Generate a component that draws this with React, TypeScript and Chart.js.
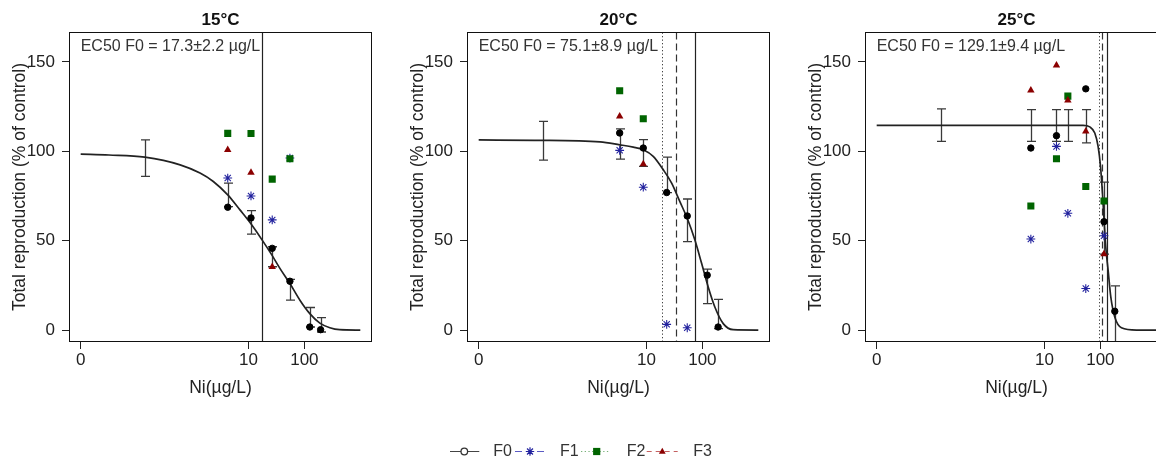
import React, { useEffect, useRef } from "react";
import { Chart, registerables } from "chart.js";

Chart.register(...registerables);

const FONT = '"Liberation Sans", Arial, Helvetica, sans-serif';
const TEXT = "#222";
const BLACK = "#000000";
const BLUE = "#22229e";
const GREEN = "#006400";
const RED = "#8b0000";

// ---------- labels ----------
const panelTitles = ["15°C", "20°C", "25°C"];
const ec50Texts = [
  "EC50 F0 = 17.3±2.2 µg/L",
  "EC50 F0 = 75.1±8.9 µg/L",
  "EC50 F0 = 129.1±9.4 µg/L",
];
const seriesNames = ["F0", "F1", "F2", "F3"];
const xTitle = "Ni(µg/L)";
const yTitle = "Total reproduction (% of control)";

const yTickValues = [0, 50, 100, 150];
const xTickValues = [0, 10, 100];
const xTickLabels = ["0", "10", "100"];

// ---------- 15°C ----------
const conc15 = [4.26, 11.1, 26.6, 55.1, 125, 195];
const f0_15 = [68.7, 62.7, 45.7, 27.3, 1.7, 0.2];
const f1_15 = [85.0, 75.0, 61.6, 96.2, null, null];
const f2_15 = [110.0, 109.9, 84.4, 95.8, null, null];
const f3_15 = [100.8, 88.1, 35.4, null, null, null];
const barConc15 = [0.14, 4.26, 11.1, 26.6, 55.1, 125, 195];
const barLow15 = [85.9, 69.0, 53.7, 35.4, 16.7, 1.7, -1.1];
const barHigh15 = [106.4, 82.2, 66.8, 46.6, 28.3, 12.6, 7.0];
const curveConc15 = [0, 0.032, 0.14, 0.6, 1.36, 2.35, 4.26, 7.05, 10.9, 17.6, 26.3, 36.5, 55.1, 83.2, 125, 189, 285, 427, 1000];
const curveFit15 = [98.4, 97.9, 96.7, 92.4, 87.8, 83.1, 75.6, 67.2, 59.7, 50.3, 41.9, 34.5, 26.0, 16.7, 9.2, 3.9, 1.3, 0.2, 0];

// ---------- 20°C ----------
const conc20 = [3.32, 8.77, 23.0, 53.6, 122, 191];
const f0_20 = [110.2, 101.8, 76.9, 63.8, 30.7, 1.7];
const f1_20 = [100.5, 79.9, 3.2, 1.3, null, null];
const f2_20 = [133.8, 118.2, null, null, null, null];
const f3_20 = [119.5, 92.8, null, null, null, null];
const barConc20 = [0.14, 3.32, 8.77, 23.0, 53.6, 122, 191];
const barLow20 = [95.0, 95.6, 91.5, 76.9, 49.4, 14.8, 0.8];
const barHigh20 = [116.7, 112.5, 106.5, 96.7, 73.3, 34.1, 17.2];
const curveConc20 = [0, 0.1, 1.48, 3.32, 5.81, 8.77, 13.2, 20.0, 28.2, 39.6, 53.6, 73.5, 96.8, 127, 167, 236, 355, 1000];
const curveFit20 = [106.3, 106.1, 105.2, 103.6, 102.3, 100.8, 97.1, 89.6, 82.2, 71.8, 62.5, 50.3, 37.3, 24.1, 12.9, 3.6, 0.2, 0];

// ---------- 25°C ----------
const conc25 = [5.71, 16.4, 26.2, 54.8, 116, 181];
const f0_25 = [101.8, 108.7, null, 134.9, 60.6, 10.5];
const f1_25 = [50.9, 102.7, 65.3, 23.2, 52.7, null];
const f2_25 = [69.4, 95.8, 130.8, 80.3, 72.2, null];
const f3_25 = [134.1, 148.0, 128.5, 111.1, 42.5, null];
const barConc25 = [0.14, 5.71, 16.4, 26.2, 54.8, 116, 181];
const barLow25 = [105.5, 105.5, 105.5, 105.5, 104.7, 42.5, -10];
const barHigh25 = [123.7, 123.3, 123.3, 123.3, 123.3, 82.7, 24.7];
const curveConc25 = [0, 1, 28.4, 49.1, 64.7, 79.4, 91.0, 100.5, 108.9, 116.4, 124.7, 137.4, 153.5, 180.7, 238, 442, 1000];
const curveFit25 = [114.5, 114.5, 114.5, 114.5, 113.6, 110.2, 102.7, 91.5, 76.5, 61.6, 46.6, 33.5, 18.5, 7.3, 1.3, 0, 0];

// EC50 reference lines (solid = F0, dashed, dotted)
const ec50Solid = [17.3, 75.1, 129.1];
const ec50Dashed = [null, 33.7, 106];
const ec50Dotted = [null, 19.1, 93.5];

// axis transform: log10 with 0 placed at the left end
const ZERO_POS = -2;
const tx = (c: number) => (c <= 0 ? ZERO_POS : Math.log10(c));

type Panel = {
  title: string;
  ec50Text: string;
  conc: number[];
  series: (number | null)[][];
  barConc: number[];
  barLow: number[];
  barHigh: number[];
  curveConc: number[];
  curveFit: number[];
  solid: number | null;
  dashed: number | null;
  dotted: number | null;
  left: number;
};

const panels: Panel[] = [
  {
    title: panelTitles[0], ec50Text: ec50Texts[0], conc: conc15,
    series: [f0_15, f1_15, f2_15, f3_15],
    barConc: barConc15, barLow: barLow15, barHigh: barHigh15,
    curveConc: curveConc15, curveFit: curveFit15,
    solid: ec50Solid[0], dashed: ec50Dashed[0], dotted: ec50Dotted[0], left: 0,
  },
  {
    title: panelTitles[1], ec50Text: ec50Texts[1], conc: conc20,
    series: [f0_20, f1_20, f2_20, f3_20],
    barConc: barConc20, barLow: barLow20, barHigh: barHigh20,
    curveConc: curveConc20, curveFit: curveFit20,
    solid: ec50Solid[1], dashed: ec50Dashed[1], dotted: ec50Dotted[1], left: 398,
  },
  {
    title: panelTitles[2], ec50Text: ec50Texts[2], conc: conc25,
    series: [f0_25, f1_25, f2_25, f3_25],
    barConc: barConc25, barLow: barLow25, barHigh: barHigh25,
    curveConc: curveConc25, curveFit: curveFit25,
    solid: ec50Solid[2], dashed: ec50Dashed[2], dotted: ec50Dotted[2], left: 796,
  },
];

const CW = 390;
const CH = 410;

const markerStyles = [
  { pointStyle: "circle", radius: 3.2, color: BLACK, fill: BLACK, bw: 1 },
  { pointStyle: "star", radius: 4.4, color: BLUE, fill: BLUE, bw: 1.1 },
  { pointStyle: "rect", radius: 5, color: GREEN, fill: GREEN, bw: 0 },
  { pointStyle: "triangle", radius: 4.3, color: RED, fill: RED, bw: 0 },
];

function PanelChart({ p }: { p: Panel }) {
  const ref = useRef<HTMLCanvasElement>(null);
  useEffect(() => {
    if (!ref.current) return;
    const datasets: any[] = [
      {
        label: "fit",
        data: p.curveConc.map((c, i) => ({ x: tx(c), y: p.curveFit[i] })),
        showLine: true,
        borderColor: "#222",
        borderWidth: 1.7,
        pointRadius: 0,
        cubicInterpolationMode: "monotone",
        fill: false,
        order: 10,
      },
    ];
    p.series.forEach((vals, k) => {
      const st = markerStyles[k];
      datasets.push({
        label: seriesNames[k],
        data: p.conc
          .map((c, i) => (vals[i] == null ? null : { x: tx(c), y: vals[i] }))
          .filter((d) => d !== null),
        showLine: false,
        pointStyle: st.pointStyle,
        pointRadius: st.radius,
        pointBackgroundColor: st.fill,
        pointBorderColor: st.color,
        pointBorderWidth: st.bw,
        backgroundColor: st.fill,
        borderColor: st.color,
        order: 4 - k,
      });
    });

    const panelPlugin = {
      id: "panelDecor",
      beforeDatasetsDraw(chart: any) {
        const { ctx, chartArea: a, scales } = chart;
        const x = scales.x;
        const y = scales.y;
        ctx.save();
        ctx.beginPath();
        ctx.rect(a.left, a.top, a.right - a.left, a.bottom - a.top);
        ctx.clip();
        // reference lines
        const vline = (v: number | null, dash: number[], color: string, w: number) => {
          if (v == null) return;
          const px = Math.round(x.getPixelForValue(tx(v))) + 0.5;
          ctx.beginPath();
          ctx.setLineDash(dash);
          ctx.strokeStyle = color;
          ctx.lineWidth = w;
          ctx.moveTo(px, a.top);
          ctx.lineTo(px, a.bottom);
          ctx.stroke();
        };
        vline(p.dotted, [1.3, 2.2], "#444", 1);
        vline(p.dashed, [7, 4], "#333", 1.2);
        vline(p.solid, [], "#222", 1.2);
        ctx.setLineDash([]);
        // error bars
        ctx.strokeStyle = "#3a3a3a";
        ctx.lineWidth = 1.3;
        p.barConc.forEach((c, i) => {
          const px = Math.round(x.getPixelForValue(tx(c))) + 0.5;
          const py1 = y.getPixelForValue(p.barHigh[i]);
          const py2 = y.getPixelForValue(p.barLow[i]);
          ctx.beginPath();
          ctx.moveTo(px, py1);
          ctx.lineTo(px, py2);
          ctx.moveTo(px - 4.5, py1);
          ctx.lineTo(px + 4.5, py1);
          ctx.moveTo(px - 4.5, py2);
          ctx.lineTo(px + 4.5, py2);
          ctx.stroke();
        });
        ctx.restore();
      },
      afterDraw(chart: any) {
        const { ctx, chartArea: a, scales } = chart;
        ctx.save();
        ctx.strokeStyle = "#111";
        ctx.lineWidth = 1;
        ctx.strokeRect(a.left, a.top, a.right - a.left, a.bottom - a.top);
        ctx.fillStyle = "#111";
        ctx.font = `bold 17px ${FONT}`;
        ctx.textAlign = "center";
        ctx.textBaseline = "middle";
        ctx.fillText(p.title, (a.left + a.right) / 2, 20.7);
        ctx.fillStyle = "#333";
        ctx.font = `16px ${FONT}`;
        ctx.textAlign = "left";
        ctx.fillText(p.ec50Text, scales.x.getPixelForValue(tx(0)), a.top + 14.2);
        ctx.restore();
      },
    };

    const chart = new Chart(ref.current, {
      type: "scatter",
      data: { datasets },
      plugins: [panelPlugin],
      options: {
        responsive: false,
        animation: false,
        events: [],
        layout: { padding: { top: 32.5, right: CW - 371.5, bottom: 0, left: 0 } },
        plugins: { legend: { display: false }, tooltip: { enabled: false }, title: { display: false } },
        scales: {
          x: {
            type: "linear",
            min: -2.2,
            max: 3.2,
            afterFit: (s: any) => {
              s.height = CH - 341.5;
            },
            afterBuildTicks: (s: any) => {
              s.ticks = xTickValues.map((v) => ({ value: tx(v) }));
            },
            ticks: {
              callback: (_v: any, i: number) => xTickLabels[i],
              font: { family: FONT, size: 17 },
              color: TEXT,
              padding: 1,
              maxRotation: 0,
              autoSkip: false,
            },
            grid: { display: true, drawOnChartArea: false, drawTicks: true, tickLength: 7.5, color: "#222" },
            border: { display: true, color: "#111" },
            title: {
              display: true,
              text: xTitle,
              font: { family: FONT, size: 17.5 },
              color: TEXT,
              padding: { top: 0, bottom: 11.5 },
            },
          },
          y: {
            type: "linear",
            min: -6.4,
            max: 166.4,
            afterFit: (s: any) => {
              s.width = 69.5;
            },
            afterBuildTicks: (s: any) => {
              s.ticks = yTickValues.map((v) => ({ value: v }));
            },
            ticks: {
              callback: (v: any) => String(v),
              font: { family: FONT, size: 17 },
              color: TEXT,
              padding: 7,
            },
            grid: { display: true, drawOnChartArea: false, drawTicks: true, tickLength: 7.5, color: "#222" },
            border: { display: true, color: "#111" },
            title: {
              display: true,
              text: yTitle,
              font: { family: FONT, size: 17.5 },
              color: TEXT,
              padding: { top: 9.5, bottom: 0 },
            },
          },
        },
      } as any,
    });
    return () => chart.destroy();
  }, [p]);
  return (
    <canvas
      ref={ref}
      width={CW}
      height={CH}
      style={{ position: "absolute", left: p.left, top: 0, width: CW, height: CH, display: "block" }}
    />
  );
}

function Legend() {
  const ref = useRef<HTMLCanvasElement>(null);
  useEffect(() => {
    const cv = ref.current;
    if (!cv) return;
    const ctx = cv.getContext("2d");
    if (!ctx) return;
    ctx.clearRect(0, 0, cv.width, cv.height);
    const yc = 15;
    const line = (x1: number, x2: number, color: string, dash: number[]) => {
      ctx.save();
      ctx.strokeStyle = color;
      ctx.lineWidth = 1;
      ctx.setLineDash(dash);
      ctx.beginPath();
      ctx.moveTo(x1, yc + 0.5);
      ctx.lineTo(x2, yc + 0.5);
      ctx.stroke();
      ctx.restore();
    };
    // F0
    line(10, 39.3, "#444", []);
    ctx.beginPath();
    ctx.arc(24.3, yc + 0.5, 3.3, 0, Math.PI * 2);
    ctx.fillStyle = "#fff";
    ctx.fill();
    ctx.strokeStyle = "#333";
    ctx.lineWidth = 1.3;
    ctx.stroke();
    // F1
    line(75, 106, "#5a5ac4", [7, 4]);
    ctx.strokeStyle = BLUE;
    ctx.lineWidth = 1.2;
    ctx.beginPath();
    for (let k = 0; k < 4; k++) {
      const ang = (k * Math.PI) / 4;
      const dx = Math.cos(ang) * 4.2;
      const dy = Math.sin(ang) * 4.2;
      ctx.moveTo(90 - dx, yc + 0.5 - dy);
      ctx.lineTo(90 + dx, yc + 0.5 + dy);
    }
    ctx.stroke();
    // F2
    line(141, 170, "#79b279", [1.3, 2.4]);
    ctx.fillStyle = GREEN;
    ctx.fillRect(156.7 - 3.6, yc + 0.5 - 3.6, 7.2, 7.2);
    // F3
    line(206.7, 237.7, "#c46060", [5, 4]);
    ctx.fillStyle = RED;
    ctx.beginPath();
    ctx.moveTo(222.3, yc + 0.5 - 3.8);
    ctx.lineTo(222.3 + 3.4, yc + 0.5 + 2.2);
    ctx.lineTo(222.3 - 3.4, yc + 0.5 + 2.2);
    ctx.closePath();
    ctx.fill();
    // texts
    ctx.fillStyle = "#333";
    ctx.font = `16px ${FONT}`;
    ctx.textBaseline = "middle";
    ctx.textAlign = "left";
    const textX = [53.3, 120, 186.7, 253.3];
    seriesNames.forEach((n, i) => ctx.fillText(n, textX[i], yc + 0.5));
  }, []);
  return (
    <canvas
      ref={ref}
      width={300}
      height={30}
      style={{ position: "absolute", left: 440, top: 436, width: 300, height: 30, display: "block" }}
    />
  );
}

export default function App() {
  return (
    <div
      style={{
        position: "fixed",
        left: 0,
        top: 0,
        width: 1156,
        height: 460,
        overflow: "hidden",
        background: "#fff",
      }}
    >
      {panels.map((p, i) => (
        <PanelChart key={i} p={p} />
      ))}
      <Legend />
    </div>
  );
}
